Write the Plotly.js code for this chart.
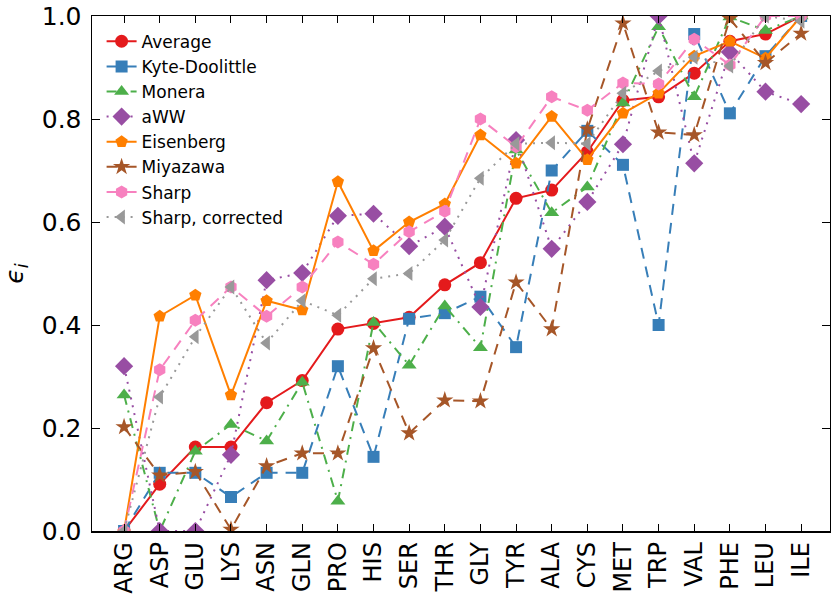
<!DOCTYPE html>
<html>
<head>
<meta charset="utf-8">
<script src="https://cdn.plot.ly/plotly-3.0.1.min.js"></script>
<style>html,body{margin:0;padding:0;background:#fff;}#chart{width:831px;height:594px;}</style>
</head>
<body>
<div id="chart"></div>
<script>
const categories = ["ARG","ASP","GLU","LYS","ASN","GLN","PRO","HIS","SER","THR","GLY","TYR","ALA","CYS","MET","TRP","VAL","PHE","LEU","ILE"];
const average   = [0, 0.091, 0.163, 0.163, 0.249, 0.292, 0.392, 0.403, 0.415, 0.478, 0.521, 0.646, 0.662, 0.736, 0.836, 0.843, 0.889, 0.951, 0.965, 1.0];
const kyte      = [0, 0.113, 0.113, 0.066, 0.113, 0.113, 0.32, 0.144, 0.412, 0.423, 0.455, 0.357, 0.70, 0.777, 0.711, 0.40, 0.965, 0.811, 0.922, 1.0];
const monera    = [0.264, 0, 0.155, 0.207, 0.175, 0.289, 0.058, 0.405, 0.322, 0.437, 0.356, 0.74, 0.618, 0.668, 0.831, 0.979, 0.843, 0.998, 0.972, 1.0];
const aww       = [0.32, 0, 0, 0.148, 0.487, 0.501, 0.612, 0.616, 0.553, 0.591, 0.435, 0.759, 0.548, 0.639, 0.751, 1.0, 0.714, 0.93, 0.853, 0.829];
const eisenberg = [0, 0.417, 0.458, 0.264, 0.447, 0.429, 0.678, 0.544, 0.6, 0.635, 0.769, 0.714, 0.805, 0.721, 0.811, 0.85, 0.922, 0.951, 0.918, 1.0];
const miyazawa  = [0.202, 0.108, 0.115, 0.003, 0.126, 0.151, 0.151, 0.355, 0.19, 0.254, 0.252, 0.483, 0.392, 0.78, 0.986, 0.774, 0.769, 0.995, 0.909, 0.966];
const sharp     = [0, 0.313, 0.409, 0.474, 0.417, 0.474, 0.561, 0.518, 0.581, 0.621, 0.80, 0.746, 0.843, 0.817, 0.87, 0.868, 0.955, 0.905, 1.0, 1.0];
const sharpCorr = [0, 0.26, 0.377, 0.474, 0.365, 0.447, 0.419, 0.49, 0.50, 0.565, 0.685, 0.752, 0.754, 0.752, 0.85, 0.893, 0.92, 0.903, 1.0, 0.99];

const seriesNames = ["Average","Kyte-Doolittle","Monera","aWW","Eisenberg","Miyazawa","Sharp","Sharp, corrected"];
const seriesData = [average, kyte, monera, aww, eisenberg, miyazawa, sharp, sharpCorr];
const colors = ["#e41a1c","#377eb8","#4daf4a","#984ea3","#ff7f00","#a65628","#f781bf","#999999"];
const symbols = ["circle","square","triangle-up","diamond","pentagon","star","hexagon","triangle-left"];
const dashes = ["solid","11px,8px","10px,6px,2px,6px","2px,6px","solid","11px,8px","11px,8px","2px,6px"];
const sizes = [13,12,13,14,13,13,13,13];

const traces = seriesNames.map((n,i)=>({
  type:"scatter", mode:"lines+markers", name:n, x:categories, y:seriesData[i],
  line:{color:colors[i], width:2, dash:dashes[i]},
  marker:{color:colors[i], symbol:symbols[i], size:sizes[i], line:{width:0}}
}));

const fontFam = "DejaVu Sans, sans-serif";
const layout = {
  width:831, height:594,
  margin:{l:92, r:1, t:16, b:63},
  paper_bgcolor:"#fff", plot_bgcolor:"#fff",
  font:{family:fontFam, color:"#000"},
  showlegend:true,
  legend:{x:0.013, y:0.985, xanchor:"left", yanchor:"top", bgcolor:"rgba(0,0,0,0)", borderwidth:0, font:{size:17, family:fontFam}},
  xaxis:{type:"category", range:[-0.9,19.81], showgrid:false, zeroline:false,
    showline:true, linecolor:"#000", linewidth:1.5, mirror:"allticks",
    ticks:"inside", ticklen:7, tickwidth:1, tickcolor:"#000",
    tickangle:-90, tickfont:{size:24, family:fontFam}},
  yaxis:{range:[0,1], showgrid:false, zeroline:false, dtick:0.2, tickformat:".1f",
    showline:true, linecolor:"#000", linewidth:1.5, mirror:"allticks",
    ticks:"inside", ticklen:8, tickwidth:1, tickcolor:"#000",
    tickfont:{size:25, family:fontFam}, ticklabelstandoff:4,
    title:{text:"<i>ϵ</i><sub><i>i</i></sub>", font:{size:25, family:fontFam}, standoff:12}}
};
Plotly.newPlot("chart", traces, layout, {displayModeBar:false, staticPlot:true});
</script>
</body>
</html>
